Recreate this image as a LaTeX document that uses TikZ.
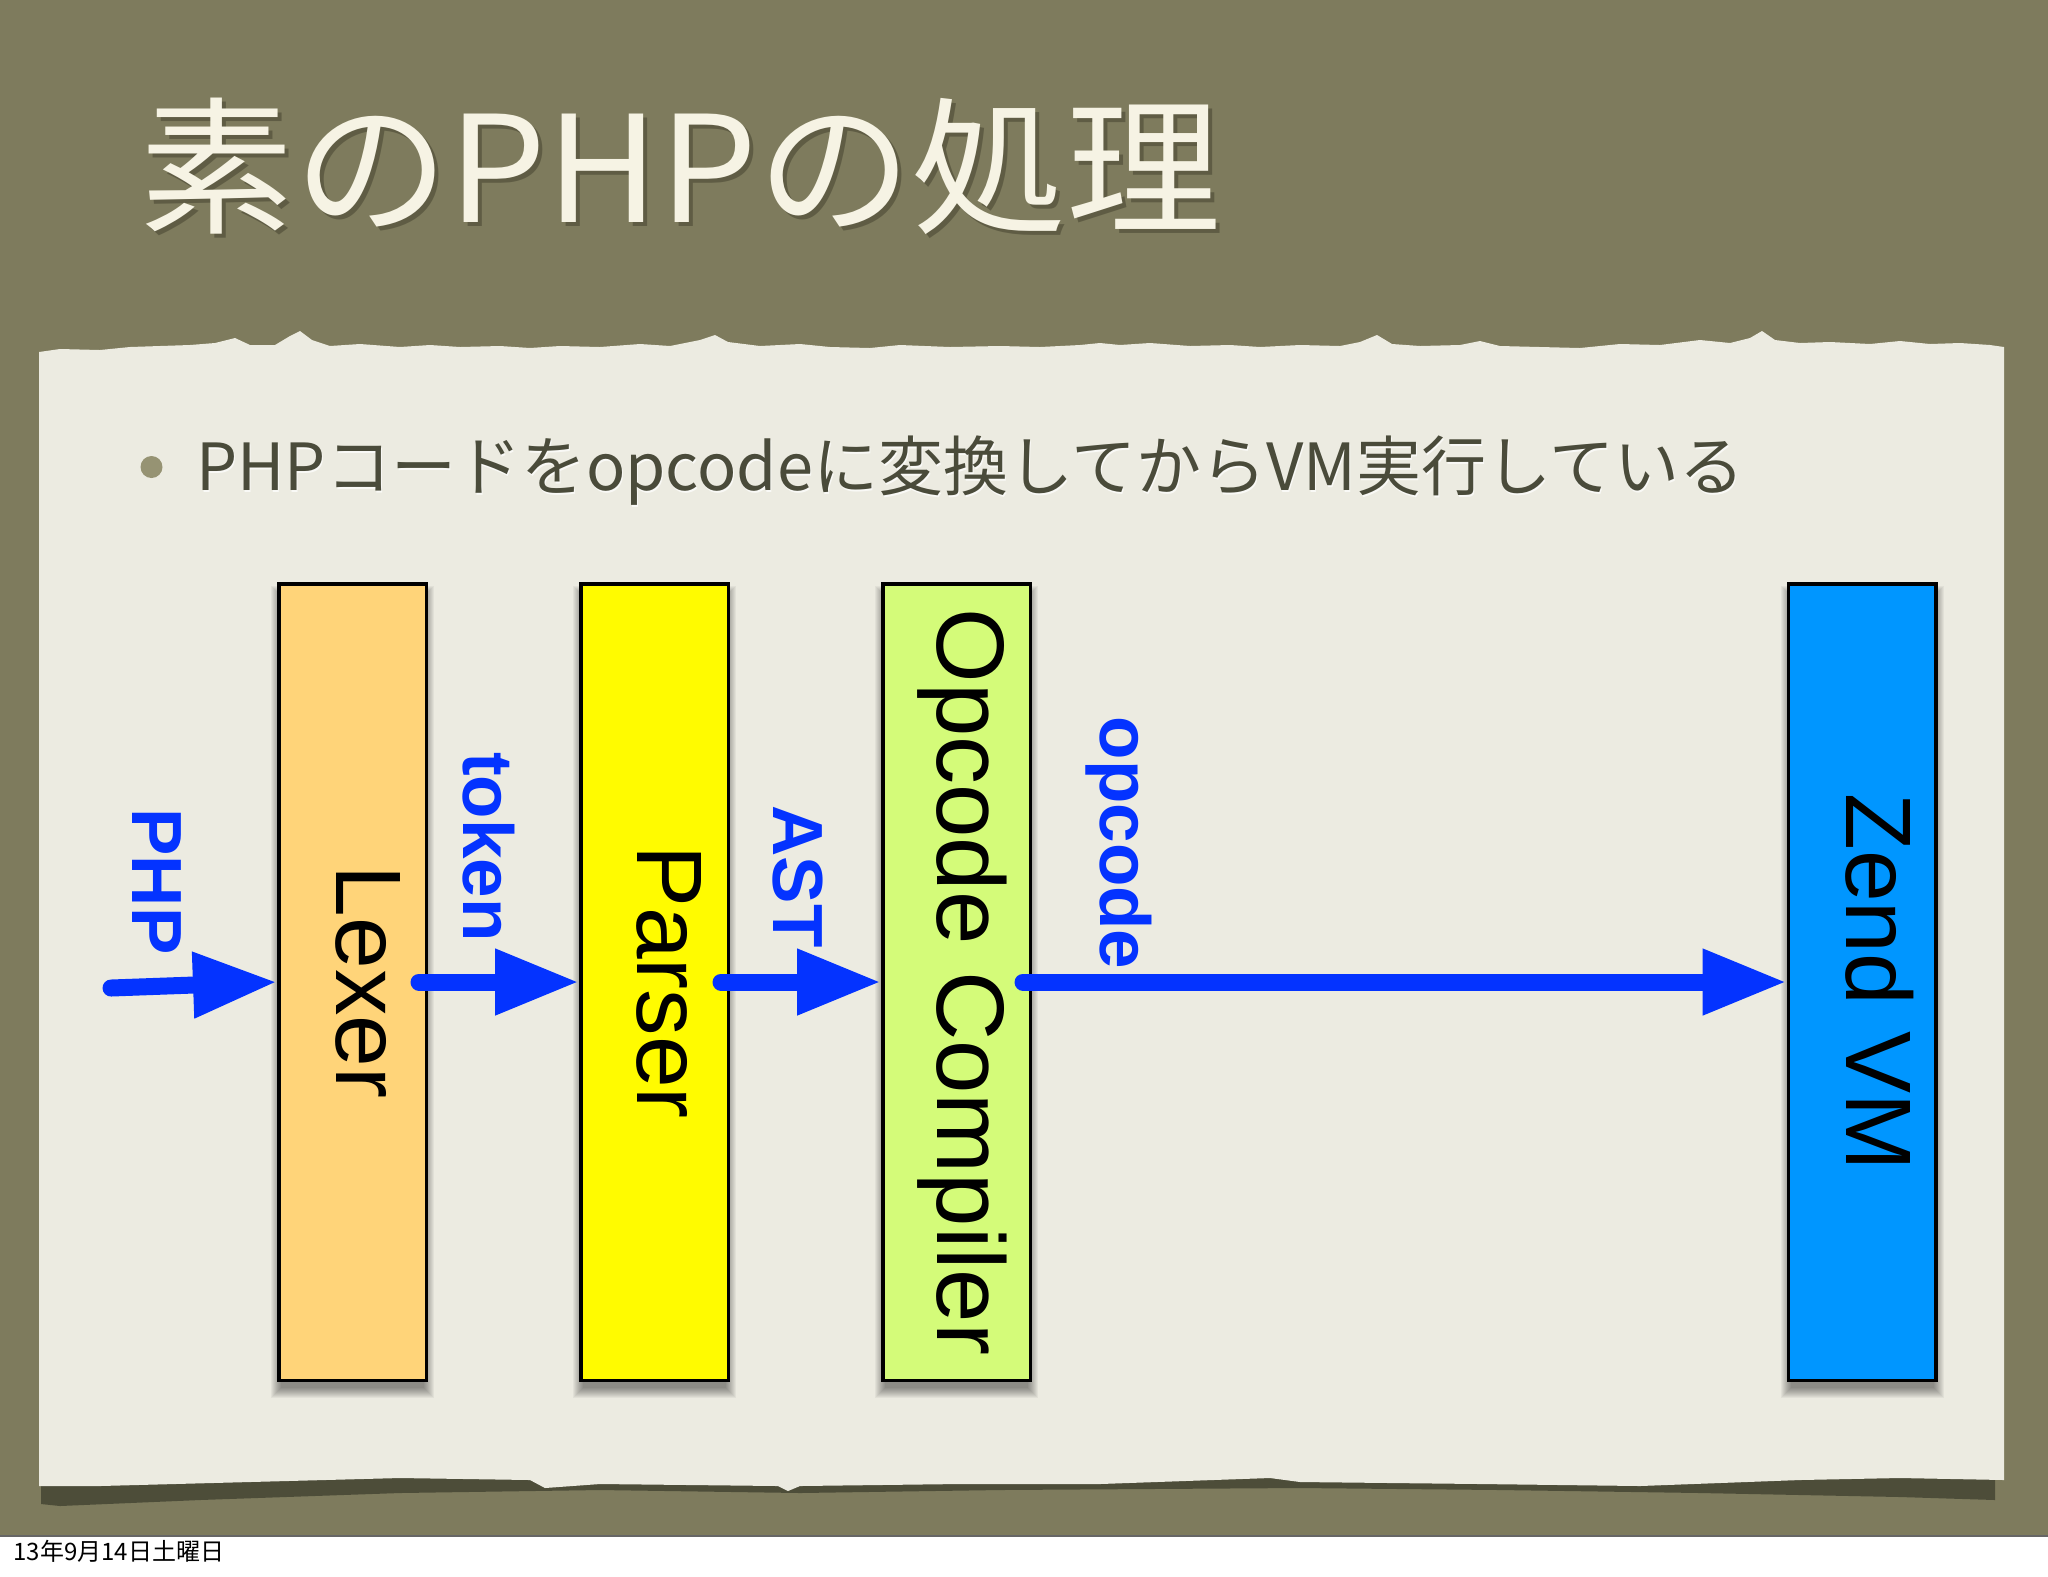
\documentclass[tikz,border=0pt]{standalone}
\usepackage{fontspec}
\usepackage{graphicx}
\setmainfont{Liberation Sans}
\newfontfamily\jp{Noto Sans CJK JP}
\usetikzlibrary{arrows.meta,calc}
\definecolor{olivebg}{RGB}{126,123,93}
\definecolor{paper}{RGB}{236,235,225}
\definecolor{paperdark}{RGB}{72,72,54}
\definecolor{titlecol}{RGB}{246,243,228}
\definecolor{titleshadow}{RGB}{70,68,48}
\definecolor{bodytext}{RGB}{74,75,58}
\definecolor{bulletcol}{RGB}{150,147,115}
\definecolor{lexercol}{RGB}{255,212,121}
\definecolor{parsercol}{RGB}{255,251,0}
\definecolor{opcodecol}{RGB}{212,251,121}
\definecolor{zendcol}{RGB}{0,150,255}
\definecolor{arrowblue}{RGB}{4,51,255}
\pgfdeclarelayer{back}
\pgfdeclarelayer{shad}
\pgfsetlayers{back,shad,main}
\newcommand\boxshadow[1]{%
  \foreach \e in {0,...,10}{%
    \fill[black,opacity=0.045] ($(#1.north west)+(4-\e,14-\e)$) rectangle ($(#1.south east)+(\e-4,\e+6)$);}}
\tikzset{
  stage/.style={draw=black, line width=1.75pt, inner sep=0pt, minimum width=73.75pt, minimum height=398.25pt},
  stagetext/.style={inner sep=0pt, anchor=base, rotate=-90, text=black, font=\fontsize{46.5pt}{54pt}\selectfont},
  flowlabel/.style={inner sep=0pt, anchor=base, rotate=-90, text=arrowblue, font=\bfseries\fontsize{35.5pt}{42pt}\selectfont},
  flow/.style={draw=arrowblue, line width=8.5pt, line cap=round, -{Triangle[length=42pt,width=31pt]}}
}
\begin{document}
\begin{tikzpicture}[x=0.5pt,y=-0.5pt]
\useasboundingbox (0,0) rectangle (2048,1576);
\begin{pgfonlayer}{back}
\fill[white] (0,0) rectangle (2048,1576);
\fill[olivebg] (0,0) rectangle (2048,1535);
\draw[line width=1pt, color=black!60] (0,1535.5) -- (2048,1535.5);
% dark band under paper
\fill[paperdark, opacity=0.9] (41,1478) -- (1995,1476) -- (1995,1500) -- (1900,1497) -- (1700,1493)
  -- (1500,1490) -- (1300,1488) -- (1000,1490) -- (800,1493) -- (600,1490) -- (400,1493)
  -- (200,1500) -- (60,1506) -- (41,1504) -- cycle;
% paper sheet with torn top edge
\fill[paper] (39,352) -- (60,349) -- (100,350) -- (130,347) -- (160,346) -- (190,345) -- (215,343)
  -- (235,338) -- (250,345) -- (275,345) -- (290,336) -- (300,331) -- (312,340) -- (330,346)
  -- (360,344) -- (400,347) -- (430,345) -- (460,347) -- (500,346) -- (530,348) -- (560,346)
  -- (600,347) -- (640,344) -- (670,346) -- (700,340) -- (715,335) -- (728,342) -- (760,346)
  -- (800,344) -- (830,347) -- (870,348) -- (900,345) -- (950,347) -- (1000,346) -- (1040,347)
  -- (1080,345) -- (1100,343) -- (1120,345) -- (1150,343) -- (1190,346) -- (1230,345) -- (1260,347)
  -- (1300,345) -- (1340,346) -- (1360,342) -- (1377,335) -- (1392,344) -- (1420,346) -- (1460,345)
  -- (1480,341) -- (1500,346) -- (1540,347) -- (1580,348) -- (1620,344) -- (1660,345) -- (1700,340)
  -- (1730,343) -- (1750,338) -- (1762,331) -- (1775,340) -- (1800,343) -- (1830,342) -- (1870,344)
  -- (1900,341) -- (1930,344) -- (1960,343) -- (1990,345) -- (2004,347)
  -- (2004,1480) -- (1900,1478) -- (1800,1480) -- (1640,1486) -- (1480,1484) -- (1300,1482)
  -- (1270,1478) -- (1100,1484) -- (960,1484) -- (800,1486) -- (788,1491) -- (778,1486)
  -- (600,1484) -- (545,1488) -- (530,1480) -- (400,1478) -- (250,1482) -- (100,1486) -- (39,1486) -- cycle;
\end{pgfonlayer}

% title
\node[anchor=base west, inner sep=0pt, text=titleshadow, opacity=0.55, font=\jp\fontsize{74pt}{80pt}\selectfont] (titleshade) at (143,226) {\scalebox{1.045}[1]{素のPHPの処理}};
\node[anchor=base west, inner sep=0pt, text=titlecol, font=\jp\fontsize{74pt}{80pt}\selectfont] (title) at (139,222) {\scalebox{1.045}[1]{素のPHPの処理}};

% bullet
\fill[bulletcol] (151.5,467) circle (11);
\node[anchor=base west, inner sep=0pt, text=white, opacity=0.7, font=\jp\fontsize{32.5pt}{39pt}\selectfont] (bulletshade) at (197,492.5) {PHPコードをopcodeに変換してからVM実行している};
\node[anchor=base west, inner sep=0pt, text=bodytext, font=\jp\fontsize{32.5pt}{39pt}\selectfont] (bullet) at (196,490) {PHPコードをopcodeに変換してからVM実行している};

% stages
\node[stage, fill=lexercol] (Lexer) at (352.5,982) {};
\node[stage, fill=parsercol] (Parser) at (654.5,982) {};
\node[stage, fill=opcodecol] (Opcode) at (956.5,982) {};
\node[stage, fill=zendcol] (Zend) at (1862,982) {};

\begin{pgfonlayer}{shad}
\boxshadow{Lexer}
\boxshadow{Parser}
\boxshadow{Opcode}
\boxshadow{Zend}
\end{pgfonlayer}

\node[stagetext] (tLexer) at (336,982) {Lexer};
\node[stagetext] (tParser) at (637,982) {Parser};
\node[stagetext, font=\fontsize{48pt}{56pt}\selectfont] (tOpcode) at (937,982) {Opcode Compiler};
\node[stagetext] (tZend) at (1846,982) {Zend VM};

% flow labels
\node[flowlabel] (lPHP) at (132,881.5) {PHP};
\node[flowlabel] (lToken) at (463,847) {token};
\node[flowlabel] (lAST) at (773,876.5) {AST};
\node[flowlabel] (lOpcode) at (1100,843) {opcode};

% connectors
\coordinate (phpin) at (111,988);
\draw[flow] (phpin) -- (Lexer.west);
\draw[flow] ($(Lexer.east)+(-9,0)$) -- (Parser.west);
\draw[flow] ($(Parser.east)+(-9,0)$) -- (Opcode.west);
\draw[flow] ($(Opcode.east)+(-9,0)$) -- (Zend.west);

% date
\node[anchor=base west, inner sep=0pt, text=black, font=\jp\fontsize{12pt}{14pt}\selectfont] (date) at (13,1560) {13年9月14日土曜日};
\end{tikzpicture}
\end{document}
